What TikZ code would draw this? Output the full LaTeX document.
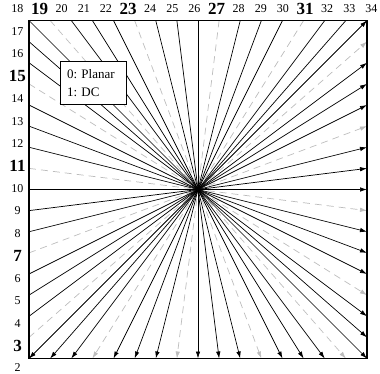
\documentclass[tikz,border=0pt]{standalone}
\usepackage{fontspec}
\setmainfont{Liberation Serif}
\usetikzlibrary{arrows.meta}
\definecolor{ink}{HTML}{000000}
\definecolor{faint}{HTML}{BDBDBD}
\tikzset{
  modeline/.style={-{Latex[length=7pt,width=4.5pt]},line width=0.7pt,color=ink},
  skipline/.style={modeline,color=faint,dash pattern=on 7pt off 5pt},
  modelabel/.style={inner sep=0pt,font=\fontsize{12}{14}\selectfont},
  keylabel/.style={inner sep=0pt,font=\fontsize{17}{20}\selectfont\bfseries},
  frame/.style={draw=ink,line width=1.1pt},
  legend/.style={draw=ink,fill=white,line width=1pt,align=left,
    text width=52pt,inner xsep=7pt,minimum height=42pt,
    font=\fontsize{13}{18}\selectfont\frenchspacing},
}

\begin{document}
\begin{tikzpicture}[x=1pt,y=1pt]
  \useasboundingbox (0,0) rectangle (380,373);

  % end points of the modes 2..34, their opposite points and label spots
  \foreach \k in {2,...,34} {
    \pgfmathsetmacro{\px}{\k<18 ? 29 : 29+(\k-18)*21.125}
    \pgfmathsetmacro{\py}{\k<18 ? 14.5+(\k-2)*21.125 : 352.5}
    \pgfmathsetmacro{\tx}{\k<18 ? 17.5 : 17.5+(\px-29)*1.047}
    \pgfmathsetmacro{\ty}{\k<18 ? 364-(352.5-\py)*1.062 : 364}
    \coordinate (p\k) at (\px,\py);
    \coordinate (q\k) at ({396-\px},{367-\py});
    \coordinate (t\k) at (\tx,\ty);
  }

  \foreach \k in {3,7,11,15,19,23,27,31}
    \draw[skipline] (p\k) -- (q\k);
  \foreach \k in {2,4,5,6,8,9,10,12,13,14,16,17,18,20,21,22,24,25,26,28,29,30,32,33,34}
    \draw[modeline] (p\k) -- (q\k);

  \draw[frame] (p2) rectangle (q2);

  \foreach \k in {3,7,11,15,19,23,27,31}
    \node[keylabel] (l\k) at (t\k) {\k};
  \foreach \k in {2,4,5,6,8,9,10,12,13,14,16,17,18,20,21,22,24,25,26,28,29,30,32,33,34}
    \node[modelabel] (l\k) at (t\k) {\k};

  \node[legend] (key) at (93,290) {0: Planar\\1: DC};
\end{tikzpicture}
\end{document}
